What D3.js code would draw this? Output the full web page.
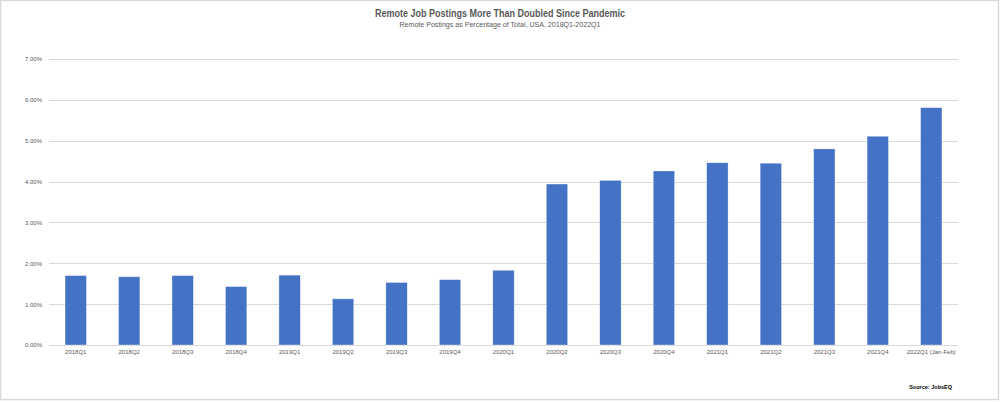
<!DOCTYPE html>
<html>
<head>
<meta charset="utf-8">
<script src="https://cdn.jsdelivr.net/npm/d3@7"></script>
<style>
  body { margin: 0; background: #fff; }
  text { font-family: "Liberation Sans", Arial, sans-serif; }
</style>
</head>
<body>
<div class="vis-holder"></div>
<script>
var quarters = ['2018Q1', '2018Q2', '2018Q3', '2018Q4', '2019Q1', '2019Q2', '2019Q3', '2019Q4',
                '2020Q1', '2020Q2', '2020Q3', '2020Q4', '2021Q1', '2021Q2', '2021Q3', '2021Q4',
                '2022Q1 (Jan-Feb)'];
var remoteShare = [1.70, 1.67, 1.70, 1.43, 1.71, 1.13, 1.53, 1.60,
                   1.83, 3.94, 4.03, 4.26, 4.46, 4.45, 4.80, 5.11,
                   5.81];
var yTicks = [0, 1, 2, 3, 4, 5, 6, 7];

var mydata = quarters.map(function(q, i) { return { quarter: q, pct: remoteShare[i] }; });

var width = 1000;
var height = 402;
var margin = { top: 59, bottom: 57, left: 49, right: 42 };

var svg = d3.select('div.vis-holder')
            .append('svg')
            .attr('width', width)
            .attr('height', height);

// outer frame
svg.append('rect')
   .attr('x', 0.5).attr('y', 0.5)
   .attr('width', width - 2).attr('height', height - 3)
   .attr('fill', '#fff')
   .attr('stroke', '#d9d9d9')
   .attr('stroke-width', 1.5);

var xScale = d3.scaleBand()
               .domain(quarters)
               .range([margin.left, width - margin.right])
               .paddingInner(0.6)
               .paddingOuter(0.3);

var yScale = d3.scaleLinear()
               .domain([0, 7])
               .range([height - margin.bottom, margin.top]);

// gridlines
svg.append('g')
   .selectAll('line')
   .data(yTicks)
   .enter()
   .append('line')
   .attr('x1', margin.left)
   .attr('x2', width - margin.right)
   .attr('y1', d => Math.round(yScale(d)) + 0.5)
   .attr('y2', d => Math.round(yScale(d)) + 0.5)
   .attr('stroke', '#d9d9d9')
   .attr('stroke-width', 1);

var yAxis = svg.append('g')
               .attr('transform', `translate(${margin.left - 4}, 0)`)
               .call(d3.axisLeft(yScale).tickValues(yTicks).tickSize(0)
                       .tickFormat(d => d.toFixed(2) + '%'));
yAxis.select('.domain').remove();
yAxis.selectAll('text')
     .attr('fill', '#595959')
     .style('font-size', '6px');

var xAxis = svg.append('g')
               .attr('transform', `translate(0, ${height - margin.bottom})`)
               .call(d3.axisBottom(xScale).tickSize(0).tickPadding(5));
xAxis.select('.domain').remove();
xAxis.selectAll('text')
     .attr('fill', '#595959')
     .style('font-size', '6px');

svg.append('g')
   .selectAll('rect')
   .data(mydata)
   .enter()
   .append('rect')
   .attr('x', d => xScale(d.quarter))
   .attr('y', d => yScale(d.pct))
   .attr('width', xScale.bandwidth())
   .attr('height', d => yScale(0) - yScale(d.pct))
   .attr('fill', '#4472c4')
   .attr('stroke', '#ffffff')
   .attr('stroke-opacity', 0.6)
   .attr('stroke-width', 0.6);

// title, squeezed to the narrow width of the original font
svg.append('text')
   .attr('text-anchor', 'middle')
   .attr('x', width / 2)
   .attr('y', 17)
   .attr('fill', '#595959')
   .attr('textLength', 250)
   .attr('lengthAdjust', 'spacingAndGlyphs')
   .style('font-size', '11px')
   .style('font-weight', 'bold')
   .text('Remote Job Postings More Than Doubled Since Pandemic');

svg.append('text')
   .attr('text-anchor', 'middle')
   .attr('x', width / 2)
   .attr('y', 27)
   .attr('fill', '#595959')
   .attr('textLength', 201)
   .attr('lengthAdjust', 'spacingAndGlyphs')
   .style('font-size', '8px')
   .text('Remote Postings as Percentage of Total, USA, 2018Q1-2022Q1');

svg.append('text')
   .attr('text-anchor', 'end')
   .attr('x', 952)
   .attr('y', 389)
   .attr('fill', '#000')
   .style('font-size', '5.5px')
   .style('font-weight', 'bold')
   .text('Source: JobsEQ');
</script>
</body>
</html>
